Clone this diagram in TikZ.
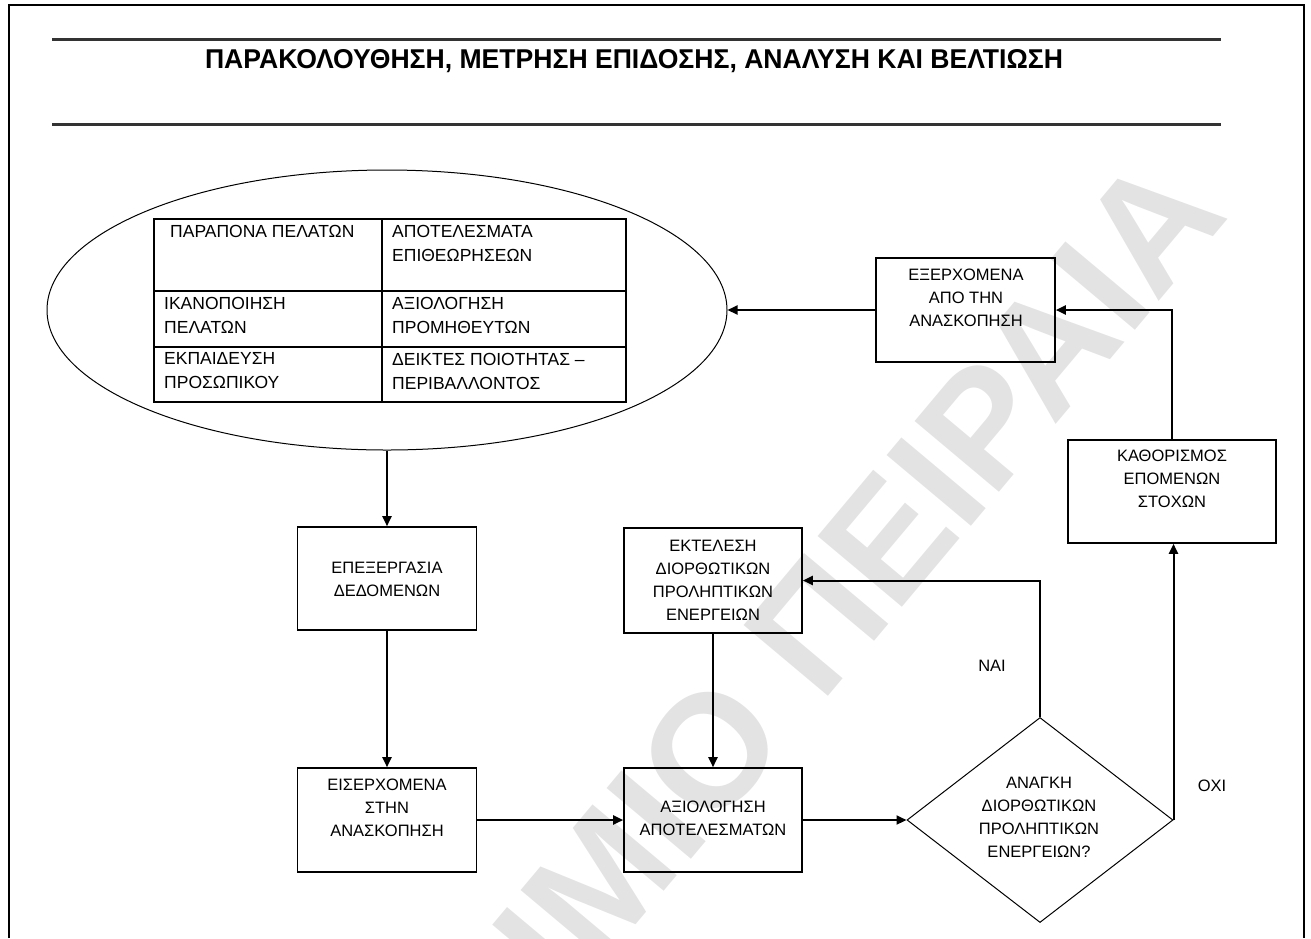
\documentclass[tikz,border=0pt]{standalone}
\usepackage{fontspec}
\setmainfont{Liberation Sans}
\usetikzlibrary{shapes.geometric,arrows.meta}
\begin{document}
\begin{tikzpicture}[x=1pt,y=-1pt,
  frame/.style={line width=2.2pt},
  rule/.style={line width=3pt,draw=black!80},
  stepbox/.style={draw,line width=1.6pt,inner sep=0pt},
  boxtext/.style={align=center,inner sep=0pt,font=\fontsize{16.5}{23}\selectfont},
  celltext/.style={align=left,anchor=west,inner sep=0pt,font=\fontsize{17.5}{24}\selectfont},
  flagtext/.style={inner sep=0pt,font=\fontsize{16.5}{20}\selectfont},
  link/.style={line width=2pt,-{Triangle[length=10pt,width=9pt]}},
  stamp/.style={inner sep=0pt,text=black!11,font=\fontsize{160}{160}\selectfont\bfseries},
]
\useasboundingbox (0,0) rectangle (1311,938);

% faint diagonal stamp behind everything
\node[stamp,rotate=50,anchor=base east] (mark) at (1231,216) {ΠΑΝΕΠΙΣΤΗΜΙΟ ΠΕΙΡΑΙΑ};

% page frame (open at the bottom)
\draw[frame] (9,938) -- (9,5) -- (1304,5) -- (1304,938);

% heading between two rules
\draw[rule] (52,39) -- (1221,39);
\draw[rule] (52,124) -- (1221,124);
\node[anchor=base,inner sep=0pt] (title) at (634,68)
  {\resizebox{858pt}{19pt}{\bfseries ΠΑΡΑΚΟΛΟΥΘΗΣΗ, ΜΕΤΡΗΣΗ ΕΠΙΔΟΣΗΣ, ΑΝΑΛΥΣΗ ΚΑΙ ΒΕΛΤΙΩΣΗ}};

% data sources: ellipse holding a 2x3 table
\node[ellipse,draw,line width=1pt,minimum width=680pt,minimum height=280pt,inner sep=0pt] (src) at (387,310) {};
\draw[line width=1.4pt] (154,219) rectangle (626,402);
\draw[line width=1.4pt] (154,291) -- (626,291) (154,347) -- (626,347) (382,219) -- (382,402);
\node[celltext] (c11) at (170,231) {ΠΑΡΑΠΟΝΑ ΠΕΛΑΤΩΝ};
\node[celltext] (c12) at (392,243) {ΑΠΟΤΕΛΕΣΜΑΤΑ\\ΕΠΙΘΕΩΡΗΣΕΩΝ};
\node[celltext] (c21) at (164,315) {ΙΚΑΝΟΠΟΙΗΣΗ\\ΠΕΛΑΤΩΝ};
\node[celltext] (c22) at (392,315) {ΑΞΙΟΛΟΓΗΣΗ\\ΠΡΟΜΗΘΕΥΤΩΝ};
\node[celltext] (c31) at (164,371) {ΕΚΠΑΙΔΕΥΣΗ\\ΠΡΟΣΩΠΙΚΟΥ};
\node[celltext] (c32) at (392,371) {ΔΕΙΚΤΕΣ ΠΟΙΟΤΗΤΑΣ –\\ΠΕΡΙΒΑΛΛΟΝΤΟΣ};

% process boxes
\node[stepbox,minimum width=179pt,minimum height=104pt] (exer) at (965.5,310) {};
\node[boxtext] (exert) at (966,297.5) {ΕΞΕΡΧΟΜΕΝΑ\\ΑΠΟ ΤΗΝ\\ΑΝΑΣΚΟΠΗΣΗ};

\node[stepbox,minimum width=208pt,minimum height=103pt] (kath) at (1172,491.5) {};
\node[boxtext] (katht) at (1172,479) {ΚΑΘΟΡΙΣΜΟΣ\\ΕΠΟΜΕΝΩΝ\\ΣΤΟΧΩΝ};

\node[stepbox,minimum width=179pt,minimum height=103pt] (epex) at (387,578.5) {};
\node[boxtext] (epext) at (387,579.5) {ΕΠΕΞΕΡΓΑΣΙΑ\\ΔΕΔΟΜΕΝΩΝ};

\node[stepbox,minimum width=178pt,minimum height=105pt] (ekt) at (713,580.5) {};
\node[boxtext] (ektt) at (713,580) {ΕΚΤΕΛΕΣΗ\\ΔΙΟΡΘΩΤΙΚΩΝ\\ΠΡΟΛΗΠΤΙΚΩΝ\\ΕΝΕΡΓΕΙΩΝ};

\node[stepbox,minimum width=179pt,minimum height=104pt] (eis) at (387,820) {};
\node[boxtext] (eist) at (387,808) {ΕΙΣΕΡΧΟΜΕΝΑ\\ΣΤΗΝ\\ΑΝΑΣΚΟΠΗΣΗ};

\node[stepbox,minimum width=178pt,minimum height=104pt] (axi) at (713,820) {};
\node[boxtext] (axit) at (713,818) {ΑΞΙΟΛΟΓΗΣΗ\\ΑΠΟΤΕΛΕΣΜΑΤΩΝ};

% decision
\node[diamond,draw,line width=1pt,minimum width=266pt,minimum height=205pt,inner sep=0pt] (dec) at (1040,820) {};
\node[boxtext] (dect) at (1039,817.5) {ΑΝΑΓΚΗ\\ΔΙΟΡΘΩΤΙΚΩΝ\\ΠΡΟΛΗΠΤΙΚΩΝ\\ΕΝΕΡΓΕΙΩΝ?};

% branch labels
\node[flagtext] (yes) at (992,666) {ΝΑΙ};
\node[flagtext] (no) at (1212,786) {ΟΧΙ};

% connectors
\draw[link] (src.south) -- (epex.north);
\draw[link] (epex.south) -- (eis.north);
\draw[link] (eis.east) -- (axi.west);
\draw[link] (ekt.south) -- (axi.north);
\draw[link] (axi.east) -- (dec.west);
\draw[link] (dec.north) |- (ekt.east);
\draw[link] (dec.east) -- (dec.east |- kath.south);
\draw[link] (kath.north) |- (exer.east);
\draw[link] (exer.west) -- (src.east);
\end{tikzpicture}
\end{document}
